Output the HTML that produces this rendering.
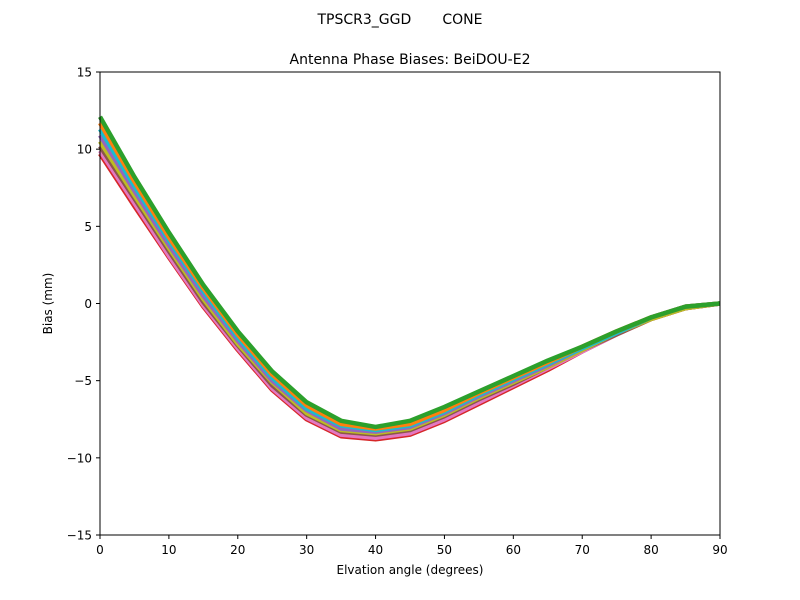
<!DOCTYPE html>
<html><head><meta charset="utf-8"><style>
body{margin:0;background:#fff;}
svg{display:block;font-family:"DejaVu Sans","Liberation Sans",sans-serif;}
</style></head><body>
<svg id="chart" width="800" height="600" viewBox="0 0 800 600">
<rect width="800" height="600" fill="#fff"/>
<text x="400" y="24" text-anchor="middle" font-size="14" style="white-space:pre">TPSCR3_GGD       CONE</text>
<text x="410" y="64" text-anchor="middle" font-size="14">Antenna Phase Biases: BeiDOU-E2</text>
<g id="series"></g>
<rect x="100" y="72" width="620" height="463" fill="none" stroke="#000" stroke-width="1"/>
<g id="xticks"></g>
<g id="yticks"></g>
<text x="410" y="574" text-anchor="middle" font-size="12">Elvation angle (degrees)</text>
<text transform="translate(52,303.5) rotate(-90)" text-anchor="middle" font-size="12">Bias (mm)</text>
</svg>
<script>
const elevations=[0,5,10,15,20,25,30,35,40,45,50,55,60,65,70,75,80,85,90];
const s1=[12.1,8.2,4.6,1.2,-1.8,-4.4,-6.4,-7.6,-8.0,-7.6,-6.7,-5.7,-4.7,-3.7,-2.8,-1.8,-0.9,-0.2,0];
const s2=[11.7,7.9,4.3,1.0,-2.0,-4.6,-6.6,-7.8,-8.1,-7.8,-6.9,-5.8,-4.8,-3.8,-2.8,-1.8,-0.9,-0.2,0];
const s3=[11.3,7.6,4.1,0.8,-2.2,-4.8,-6.8,-7.9,-8.2,-7.9,-7.0,-5.9,-4.9,-3.9,-2.9,-1.9,-0.9,-0.2,0];
const s4=[10.9,7.3,3.8,0.5,-2.4,-5.0,-6.9,-8.1,-8.3,-8.0,-7.1,-6.0,-5.0,-4.0,-2.9,-1.9,-0.9,-0.2,0];
const s5=[10.5,7.0,3.6,0.3,-2.6,-5.1,-7.1,-8.2,-8.4,-8.1,-7.2,-6.1,-5.1,-4.1,-3.0,-1.9,-1.0,-0.3,0];
const s6=[10.2,6.8,3.4,0.1,-2.7,-5.3,-7.2,-8.3,-8.5,-8.2,-7.3,-6.2,-5.2,-4.1,-3.0,-2.0,-1.0,-0.3,0];
const s7=[9.9,6.5,3.1,-0.1,-2.9,-5.5,-7.4,-8.5,-8.7,-8.4,-7.5,-6.4,-5.3,-4.2,-3.1,-2.0,-1.0,-0.3,0];
const s8=[9.7,6.3,3.0,-0.2,-3.0,-5.6,-7.5,-8.6,-8.8,-8.5,-7.6,-6.5,-5.4,-4.3,-3.1,-2.0,-1.0,-0.3,0];
const xTickLabels=[0,10,20,30,40,50,60,70,80,90];
const yTickLabels=[15,10,5,0,-5,-10,-15];
const seriesList=[s8,s7,s6,s5,s4,s3,s2,s1];
const colors=["#d62728","#e377c2","#8c564b","#bcbd22","#9467bd","#17becf","#ff7f0e","#2ca02c"];
const NS="http://www.w3.org/2000/svg";
const X=v=>100+(v-0)/90*620;
const Y=v=>72+(15-v)/30*463;
const sg=document.getElementById('series');
seriesList.forEach((s,i)=>{
  const p=document.createElementNS(NS,'polyline');
  p.setAttribute('points',s.map((v,j)=>X(elevations[j])+','+Y(v)).join(' '));
  p.setAttribute('fill','none');p.setAttribute('stroke',colors[i]);p.setAttribute('stroke-width','4.5');
  p.setAttribute('stroke-linejoin','round');
  
  
  sg.appendChild(p);
});
const xg=document.getElementById('xticks');
xTickLabels.forEach(v=>{
  const l=document.createElementNS(NS,'line');
  l.setAttribute('x1',X(v));l.setAttribute('x2',X(v));l.setAttribute('y1',535);l.setAttribute('y2',539);l.setAttribute('stroke','#000');
  
  
  xg.appendChild(l);
  const t=document.createElementNS(NS,'text');
  t.setAttribute('x',X(v));t.setAttribute('y',554);t.setAttribute('text-anchor','middle');t.setAttribute('font-size','12');
  t.textContent=v;
  
  
  xg.appendChild(t);
});
const yg=document.getElementById('yticks');
yTickLabels.forEach(v=>{
  const l=document.createElementNS(NS,'line');
  l.setAttribute('x1',96);l.setAttribute('x2',100);l.setAttribute('y1',Y(v));l.setAttribute('y2',Y(v));l.setAttribute('stroke','#000');
  
  
  yg.appendChild(l);
  const t=document.createElementNS(NS,'text');
  t.setAttribute('x',92);t.setAttribute('y',Y(v)+4.5);t.setAttribute('text-anchor','end');t.setAttribute('font-size','12');
  t.textContent=v<0?'\u2212'+Math.abs(v):v;
  
  
  yg.appendChild(t);
});
</script>
</body></html>
